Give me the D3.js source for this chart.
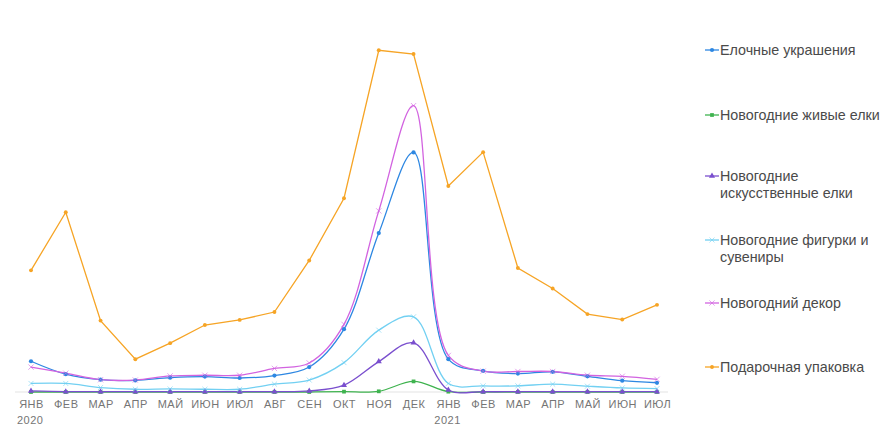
<!DOCTYPE html>
<html>
<head>
<meta charset="utf-8">
<script src="https://cdn.jsdelivr.net/npm/d3@7"></script>
<style>
  body { margin: 0; background: #fff; font-family: Arial, "Liberation Sans", sans-serif; }
  .axis-label { fill: #757575; font-size: 11px; letter-spacing: 0.5px; }
  .legend-text { fill: #4a4a4a; font-size: 14.3px; }
</style>
</head>
<body>
<div id="chart"></div>
<script>
// months along the x axis
const months = ["ЯНВ", "ФЕВ", "МАР", "АПР", "МАЙ", "ИЮН", "ИЮЛ", "АВГ", "СЕН", "ОКТ", "НОЯ", "ДЕК",
                "ЯНВ", "ФЕВ", "МАР", "АПР", "МАЙ", "ИЮН", "ИЮЛ"];
const years = [{i: 0, label: "2020"}, {i: 12, label: "2021"}];

// series values (relative interest, 0..100)
const decorations = [9.0, 5.2, 3.6, 3.4, 4.2, 4.5, 4.1, 4.8, 7.3, 18.4, 46.5, 70.1, 9.6, 6.2, 5.4, 5.9, 4.6, 3.3, 2.7];
const liveTrees   = [0, 0, 0, 0, 0, 0, 0, 0, 0, 0.1, 0.2, 3.1, 0.1, 0, 0, 0, 0, 0, 0];
const artTrees    = [0.3, 0.1, 0.1, 0.1, 0.1, 0.1, 0.1, 0.1, 0.3, 2.0, 8.9, 14.4, 0.6, 0.1, 0.1, 0.1, 0.1, 0.1, 0.1];
const figurines   = [2.5, 2.5, 1.3, 0.8, 0.9, 0.8, 0.8, 2.3, 3.5, 8.6, 18.1, 22.0, 2.5, 1.8, 1.8, 2.3, 1.7, 1.2, 1.0];
const decor       = [7.3, 5.5, 3.6, 3.5, 4.7, 4.9, 4.9, 6.9, 8.5, 19.8, 53.0, 83.8, 10.7, 6.1, 6.0, 6.0, 4.9, 4.6, 3.7];
const giftWrap    = [35.6, 52.6, 20.9, 9.6, 14.3, 19.6, 21.1, 23.4, 38.5, 56.7, 100, 98.9, 60.3, 70.2, 36.3, 30.3, 22.8, 21.2, 25.5];

const seriesNames = ["Елочные украшения", "Новогодние живые елки", "Новогодние искусственные елки",
                     "Новогодние фигурки и сувениры", "Новогодний декор", "Подарочная упаковка"];

const series = [
    {name: seriesNames[0], values: decorations, color: "#2d87e2", symbol: d3.symbolCircle, size: 14, smooth: true, lines: ["Елочные украшения"]},
    {name: seriesNames[1], values: liveTrees, color: "#3fb34f", symbol: d3.symbolSquare, size: 14, smooth: true, lines: ["Новогодние живые елки"]},
    {name: seriesNames[2], values: artTrees, color: "#7a4fce", symbol: d3.symbolTriangle, size: 16, smooth: true, lines: ["Новогодние", "искусственные елки"]},
    {name: seriesNames[3], values: figurines, color: "#72d0f2", symbol: d3.symbolTimes, size: 18, smooth: true, lines: ["Новогодние фигурки и", "сувениры"]},
    {name: seriesNames[4], values: decor, color: "#d263e0", symbol: d3.symbolTimes, size: 20, smooth: true, lines: ["Новогодний декор"]},
    {name: seriesNames[5], values: giftWrap, color: "#f6a425", symbol: d3.symbolCircle, size: 12, smooth: false, lines: ["Подарочная упаковка"]}
];

const width = 893, height = 445;

const svg = d3.select("#chart").append("svg")
    .attr("width", width)
    .attr("height", height);

// scales
const x = d3.scalePoint()
    .domain(d3.range(months.length))
    .range([31, 657]);

const y = d3.scaleLinear()
    .domain([0, 100])
    .range([392, 50.3]);

// baseline
svg.append("line")
    .attr("x1", 15)
    .attr("x2", 668)
    .attr("y1", y(0))
    .attr("y2", y(0))
    .attr("stroke", "#e3e3e3")
    .attr("stroke-width", 1);

// x axis labels
const xAxis = svg.append("g")
    .attr("transform", "translate(0," + (y(0) + 8) + ")")
    .call(d3.axisBottom(x).tickSize(0).tickFormat(i => months[i]));
xAxis.select(".domain").remove();
xAxis.selectAll("text")
    .attr("class", "axis-label")
    .attr("dy", "0.71em")
    .attr("y", 0);

svg.selectAll(".year-label")
    .data(years)
    .enter()
    .append("text")
    .attr("class", "axis-label")
    .attr("x", d => x(d.i) - 14)
    .attr("y", 424)
    .text(d => d.label);

// lines
const smoothLine = d3.line()
    .x((d, i) => x(i))
    .y(d => y(d))
    .curve(d3.curveCatmullRom.alpha(0.5));

const straightLine = d3.line()
    .x((d, i) => x(i))
    .y(d => y(d));

const g = svg.append("g");

series.forEach(function (s) {
    g.append("path")
        .datum(s.values)
        .attr("fill", "none")
        .attr("stroke", s.color)
        .attr("stroke-width", 1.3)
        .attr("d", s.smooth ? smoothLine : straightLine);
});

// markers drawn after the lines
series.forEach(function (s) {
    const sym = d3.symbol().type(s.symbol).size(s.size);
    g.selectAll(null)
        .data(s.values)
        .enter()
        .append("path")
        .attr("d", sym)
        .attr("transform", (d, i) => "translate(" + x(i) + "," + y(d) + ")")
        .attr("fill", s.color)
        .attr("stroke", s.symbol === d3.symbolTimes ? s.color : "none")
        .attr("stroke-width", 0.6);
});

// legend
const legendY = [50, 115, 176, 240, 303, 367];
const legend = svg.append("g");

series.forEach(function (s, k) {
    const ly = legendY[k];
    legend.append("line")
        .attr("x1", 705)
        .attr("x2", 719)
        .attr("y1", ly)
        .attr("y2", ly)
        .attr("stroke", s.color)
        .attr("stroke-width", 1.3);
    legend.append("path")
        .attr("d", d3.symbol().type(s.symbol).size(s.size)())
        .attr("transform", "translate(712," + ly + ")")
        .attr("fill", s.color)
        .attr("stroke", s.symbol === d3.symbolTimes ? s.color : "none")
        .attr("stroke-width", 0.6);
    s.lines.forEach(function (t, j) {
        legend.append("text")
            .attr("class", "legend-text")
            .attr("x", 720)
            .attr("y", ly + j * 17)
            .attr("dy", "0.35em")
            .text(t);
    });
});
</script>
</body>
</html>
